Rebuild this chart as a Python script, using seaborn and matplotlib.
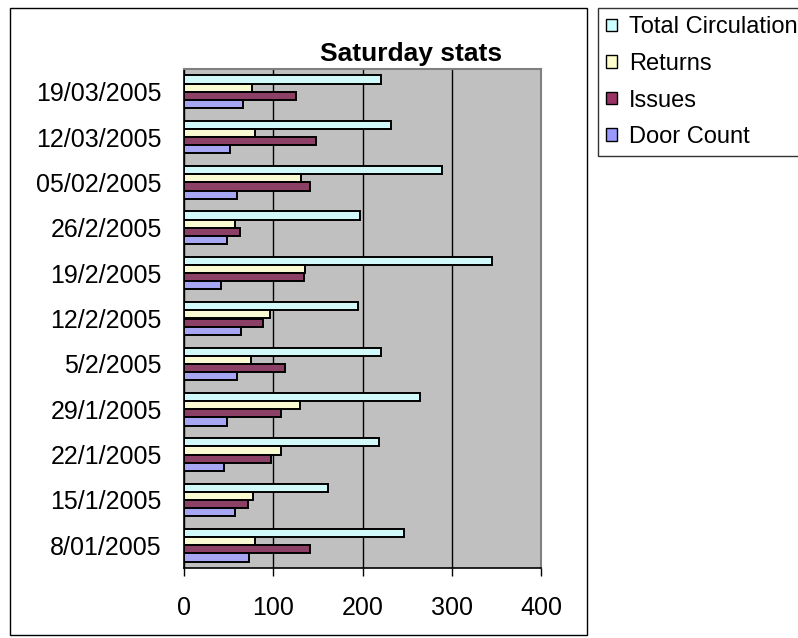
import matplotlib
matplotlib.use("Agg")
import matplotlib.pyplot as plt
import matplotlib.patches as mpatches
import seaborn as sns
import pandas as pd

dates = ["19/03/2005", "12/03/2005", "05/02/2005", "26/2/2005", "19/2/2005",
         "12/2/2005", "5/2/2005", "29/1/2005", "22/1/2005", "15/1/2005", "8/01/2005"]
total_circulation = [221, 232, 289, 197, 345, 195, 221, 264, 219, 161, 246]
returns = [76, 79, 131, 57, 136, 96, 75, 130, 109, 77, 80]
issues = [125, 148, 141, 63, 134, 88, 113, 109, 97, 72, 141]
door_count = [66, 52, 59, 48, 41, 64, 59, 48, 45, 57, 73]
series_names = ["Total Circulation", "Returns", "Issues", "Door Count"]
x_ticks = [0, 100, 200, 300, 400]

colors = ["#CCFFFF", "#FFFFCC", "#993366", "#9999FF"]

rows = []
for name, vals in zip(series_names, [total_circulation, returns, issues, door_count]):
    for d, v in zip(dates, vals):
        rows.append({"date": d, "series": name, "value": v})
df = pd.DataFrame(rows)

sns.set_style("white")
plt.rcParams["font.family"] = ["Liberation Sans", "DejaVu Sans"]
plt.rcParams["text.color"] = "black"
plt.rcParams["xtick.color"] = "black"
plt.rcParams["ytick.color"] = "black"
plt.rcParams["axes.labelcolor"] = "black"

W, H = 798, 638
fig = plt.figure(figsize=(W / 100, H / 100), dpi=100)
ax = fig.add_axes([184 / W, 1 - 568 / H, (541 - 184) / W, (568 - 69) / H])

sns.barplot(data=df, x="value", y="date", hue="series", order=dates,
            hue_order=series_names, palette=colors, orient="h", width=0.72,
            edgecolor="black", linewidth=1.4, errorbar=None, ax=ax)

ax.set_facecolor("#C0C0C0")
ax.set_xlim(0, 400)
ax.set_ylim(len(dates) - 0.5, -0.5)
ax.set_xticks(x_ticks)
ax.set_xticklabels([str(t) for t in x_ticks], fontsize=18)
ax.xaxis.grid(True, color="black", linewidth=1.0)
ax.set_axisbelow(True)
ax.set_xlabel("")
ax.set_ylabel("")

ax.set_yticks(range(len(dates)))
ax.set_yticklabels(dates, fontsize=18)
ax.tick_params(axis="y", which="major", length=0, pad=16)
ax.set_yticks([i - 0.5 for i in range(len(dates) + 1)], minor=True)
ax.tick_params(axis="y", which="minor", length=5, width=1, color="black", direction="out")
ax.tick_params(axis="x", which="major", length=6, width=1, color="black", direction="out", pad=14, bottom=True)

for s in ["left", "bottom"]:
    ax.spines[s].set_color("black")
    ax.spines[s].set_linewidth(1.2)
for s in ["top", "right"]:
    ax.spines[s].set_color("#808080")
    ax.spines[s].set_linewidth(1.5)

if ax.get_legend() is not None:
    ax.get_legend().remove()

fig.text(411 / W, 1 - 61 / H, "Saturday stats", fontsize=19, fontweight="bold",
         ha="center", va="baseline", color="black")

# chart area border
border = mpatches.Rectangle((10 / W, 1 - 635 / H), (587 - 10) / W, (635 - 8) / H,
                            transform=fig.transFigure, fill=False,
                            edgecolor="black", linewidth=1.0)
fig.patches.append(border)

handles = [mpatches.Patch(facecolor=c, edgecolor="black", linewidth=1.0) for c in colors]
leg = fig.legend(handles, series_names, loc="upper left",
                 bbox_to_anchor=(598 / W, 1 - 8 / H), fontsize=17,
                 frameon=True, fancybox=False, handlelength=0.45, handleheight=0.45,
                 handletextpad=0.5, labelspacing=0.62, borderpad=0.35, borderaxespad=0,
                 labelcolor="black")
leg.get_frame().set_edgecolor("black")
leg.get_frame().set_linewidth(1.0)

fig.savefig("out.png", dpi=100)
